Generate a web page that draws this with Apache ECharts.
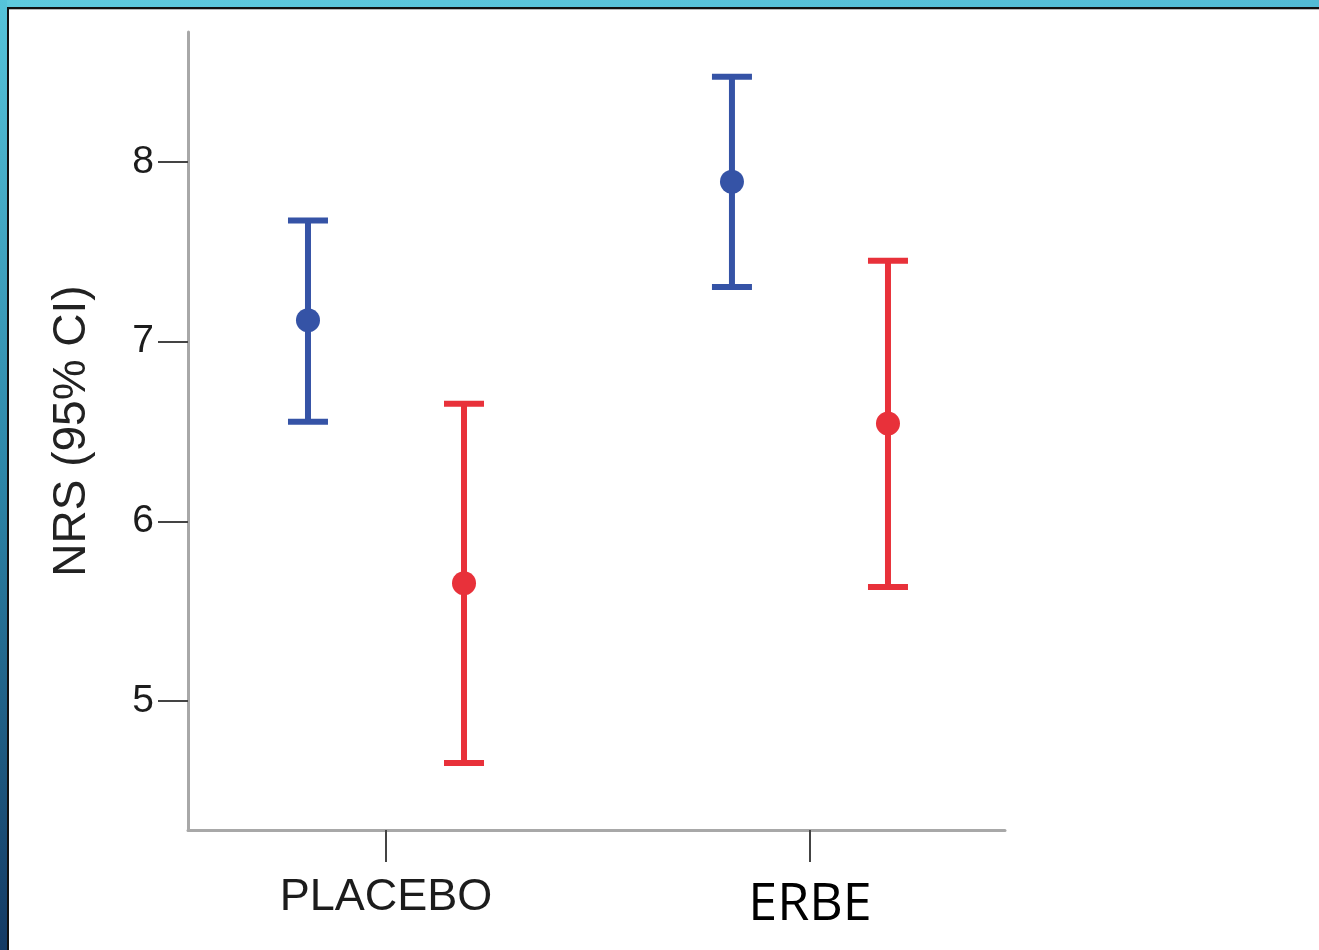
<!DOCTYPE html>
<html>
<head>
<meta charset="utf-8">
<title>NRS (95% CI)</title>
<script src="https://cdn.jsdelivr.net/npm/echarts@6/dist/echarts.min.js"></script>
<style>
  html, body { margin: 0; padding: 0; background: #ffffff; }
  #chart { width: 1319px; height: 950px; }
</style>
</head>
<body>
<div id="chart"></div>
<script>
// Group labels on the x axis
const categories = ['PLACEBO', 'ERBE'];

// Blue group: mean and 95% confidence limits
const blueMean = [7.12, 7.89];
const blueLow = [6.555, 7.305];
const blueHigh = [7.675, 8.475];

// Red group: mean and 95% confidence limits
const redMean = [5.655, 6.545];
const redLow = [4.655, 5.635];
const redHigh = [6.655, 7.45];

// Y axis tick values
const yTicks = [5, 6, 7, 8];

const BLUE = '#3553a6';
const RED = '#e8313a';
const GROUP_SHIFT = 0.184; // horizontal shift of each group around its category

function buildRows(means, lows, highs, shift) {
  return categories.map((c, i) => [i + 1 + shift, means[i], lows[i], highs[i]]);
}

function errorBarRenderer(color) {
  return function (params, api) {
    const x = api.value(0);
    const mid = api.coord([x, api.value(1)]);
    const lo = api.coord([x, api.value(2)]);
    const hi = api.coord([x, api.value(3)]);
    const half = 20;
    const lineStyle = { stroke: color, lineWidth: 6, lineCap: 'butt' };
    return {
      type: 'group',
      children: [
        { type: 'line', shape: { x1: lo[0], y1: lo[1], x2: hi[0], y2: hi[1] }, style: lineStyle },
        { type: 'line', shape: { x1: hi[0] - half, y1: hi[1], x2: hi[0] + half, y2: hi[1] }, style: lineStyle },
        { type: 'line', shape: { x1: lo[0] - half, y1: lo[1], x2: lo[0] + half, y2: lo[1] }, style: lineStyle },
        { type: 'circle', shape: { cx: mid[0], cy: mid[1], r: 12 }, style: { fill: color } }
      ]
    };
  };
}

const chart = echarts.init(document.getElementById('chart'), null, { renderer: 'canvas' });

chart.setOption({
  animation: false,
  backgroundColor: '#ffffff',
  grid: { left: 188, right: 314, top: 32, bottom: 120, containLabel: false },
  xAxis: {
    type: 'value',
    min: 0.533,
    max: 2.46,
    splitLine: { show: false },
    axisLine: { show: true, lineStyle: { color: '#a8a8a8', width: 3 } },
    axisTick: {
      show: true,
      customValues: [1, 2],
      length: 32,
      lineStyle: { color: '#444444', width: 2 }
    },
    axisLabel: {
      show: true,
      customValues: [1, 2],
      margin: 46,
      formatter: function (v) {
        const name = categories[Math.round(v) - 1];
        return name === 'ERBE' ? '{e|' + name + '}' : '{p|' + name + '}';
      },
      rich: {
        p: { fontFamily: 'Liberation Sans, Arial, sans-serif', fontSize: 45, lineHeight: 44, color: '#1c1c1c' },
        e: { fontFamily: 'Open Sans, sans-serif', fontSize: 52, lineHeight: 50, color: '#000000', padding: [8, 0, 0, 0] }
      }
    }
  },
  yAxis: {
    type: 'value',
    min: 4.282,
    max: 8.724,
    name: 'NRS (95% CI)',
    nameLocation: 'middle',
    nameGap: 93,
    nameRotate: 90,
    nameTextStyle: { fontFamily: 'Liberation Sans, Arial, sans-serif', fontSize: 46, color: '#222222' },
    splitLine: { show: false },
    axisLine: { show: true, lineStyle: { color: '#a8a8a8', width: 3 } },
    axisTick: {
      show: true,
      customValues: yTicks,
      length: 30,
      lineStyle: { color: '#444444', width: 2 }
    },
    axisLabel: {
      show: true,
      customValues: yTicks,
      margin: 34,
      fontFamily: 'Liberation Sans, Arial, sans-serif',
      fontSize: 39,
      color: '#1c1c1c'
    }
  },
  series: [
    {
      name: 'blue',
      type: 'custom',
      renderItem: errorBarRenderer(BLUE),
      encode: { x: 0, y: [1, 2, 3] },
      data: buildRows(blueMean, blueLow, blueHigh, -GROUP_SHIFT),
      z: 5
    },
    {
      name: 'red',
      type: 'custom',
      renderItem: errorBarRenderer(RED),
      encode: { x: 0, y: [1, 2, 3] },
      data: buildRows(redMean, redLow, redHigh, GROUP_SHIFT),
      z: 5
    }
  ],
  graphic: [
    // frame: top band
    {
      type: 'rect', left: 0, top: 0, z: 100,
      shape: { width: 1319, height: 7 },
      style: {
        fill: new echarts.graphic.LinearGradient(0, 0, 1, 0, [
          { offset: 0, color: '#5ecade' },
          { offset: 1, color: '#52bbd5' }
        ])
      }
    },
    // frame: left band
    {
      type: 'rect', left: 0, top: 0, z: 101,
      shape: { width: 7, height: 950 },
      style: {
        fill: new echarts.graphic.LinearGradient(0, 0, 0, 1, [
          { offset: 0, color: '#56c4da' },
          { offset: 0.5, color: '#2d86a8' },
          { offset: 1, color: '#143a64' }
        ])
      }
    },
    { type: 'rect', left: 7, top: 7, z: 102, shape: { width: 1312, height: 2 }, style: { fill: '#111111' } },
    { type: 'rect', left: 9, top: 9, z: 102, shape: { width: 1310, height: 1 }, style: { fill: '#b8b8b8' } },
    { type: 'rect', left: 7, top: 7, z: 102, shape: { width: 2, height: 943 }, style: { fill: '#111111' } }
  ]
});
</script>
</body>
</html>
